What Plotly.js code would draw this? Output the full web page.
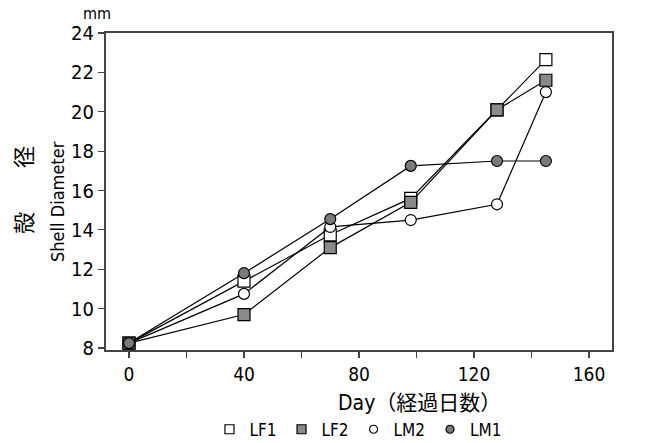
<!DOCTYPE html>
<html><head><meta charset="utf-8">
<script src="https://cdn.plot.ly/plotly-3.0.1.min.js"></script>
<style>body{margin:0;background:#fff}#c{width:645px;height:443px}</style>
</head><body><div id="c"></div>
<script>
const days = [0, 40, 70, 98, 128, 145];
const LF1 = [8.25, 11.4, 13.75, 15.6, 20.1, 22.65];
const LF2 = [8.25, 9.7, 13.1, 15.4, 20.1, 21.6];
const LM2 = [8.25, 10.75, 14.15, 14.5, 15.3, 21.0];
const LM1 = [8.25, 11.8, 14.55, 17.25, 17.5, 17.5];
const seriesNames = ['LF1', 'LF2', 'LM2', 'LM1'];
const xTickVals = [0, 20, 40, 60, 80, 100, 120, 140, 160];
const xTickText = ['0', '', '40', '', '80', '', '120', '', '160'];
const yTickVals = [8, 10, 12, 14, 16, 18, 20, 22, 24];

const FONT = "'DejaVu Sans Condensed', 'Liberation Sans Narrow', 'Noto Sans CJK JP', sans-serif";
const styles = {
  LF1: {symbol: 'square', color: '#ffffff', size: 12},
  LF2: {symbol: 'square', color: '#8a8a8a', size: 12},
  LM2: {symbol: 'circle', color: '#ffffff', size: 11},
  LM1: {symbol: 'circle', color: '#7a7a7a', size: 11}
};
const data = {LF1, LF2, LM2, LM1};
const traces = [];
seriesNames.forEach(n => {
  traces.push({x: days, y: data[n], mode: 'lines+markers', showlegend: false,
    line: {color: '#000', width: 1.2},
    marker: {symbol: styles[n].symbol, size: styles[n].size, color: styles[n].color, line: {color: '#000', width: 1.2}}});
});
seriesNames.forEach(n => {
  traces.push({x: [null], y: [null], mode: 'markers', name: n, showlegend: true,
    marker: {symbol: styles[n].symbol, size: styles[n].size - 3, color: styles[n].color, line: {color: '#000', width: 1.2}}});
});

const layout = {
  width: 645, height: 443,
  margin: {l: 106, r: 33, t: 33, b: 93},
  paper_bgcolor: '#fff', plot_bgcolor: '#fff',
  font: {family: FONT, color: '#000', size: 19},
  xaxis: {range: [-8, 168], tickvals: xTickVals, ticktext: xTickText, ticks: 'outside', ticklen: 6,
    tickwidth: 1.2, showline: true, linewidth: 2, mirror: true, showgrid: false, zeroline: false,
    tickfont: {size: 19, family: FONT}, automargin: false},
  yaxis: {range: [7.9, 24], tickvals: yTickVals, ticks: 'outside', ticklen: 6, tickwidth: 1.2,
    showline: true, linewidth: 2, mirror: true, showgrid: false, zeroline: false,
    tickfont: {size: 20, family: FONT}, automargin: false},
  showlegend: true,
  legend: {orientation: 'h', xref: 'container', yref: 'container', x: 0.555, xanchor: 'center', y: 0.03, yanchor: 'middle',
    font: {size: 17, family: FONT}, itemwidth: 30, tracegroupgap: 0, bgcolor: 'rgba(0,0,0,0)'},
  annotations: [
    {text: 'mm', xref: 'paper', yref: 'paper', x: -0.018, y: 1.06, xanchor: 'center', yanchor: 'middle',
      showarrow: false, font: {size: 16, family: FONT}},
    {text: 'Shell Diameter', xref: 'paper', yref: 'paper', x: -0.097, y: 0.47, xanchor: 'center', yanchor: 'middle',
      textangle: -90, showarrow: false, font: {size: 18, family: FONT}},
    {text: '殻　　径', xref: 'paper', yref: 'paper', x: -0.166, y: 0.505, xanchor: 'center', yanchor: 'middle',
      textangle: -90, showarrow: false, font: {size: 22, family: "'Noto Sans CJK JP', sans-serif"}},
    {text: 'Day（経過日数）', xref: 'paper', yref: 'paper', x: 0.62, y: -0.167, xanchor: 'center', yanchor: 'middle',
      showarrow: false, font: {size: 21, family: FONT + ", 'Noto Sans CJK JP'"}}
  ]
};
Plotly.newPlot('c', traces, layout, {displayModeBar: false, staticPlot: true});
</script></body></html>
